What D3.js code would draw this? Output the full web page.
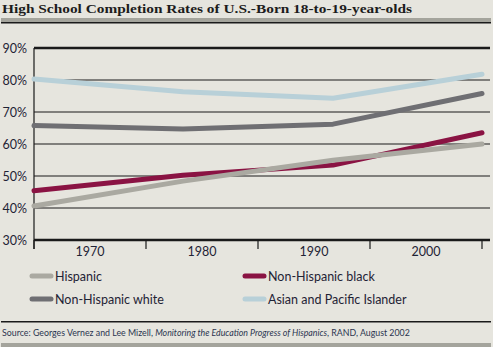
<!DOCTYPE html>
<html>
<head>
<meta charset="utf-8">
<script src="https://cdn.jsdelivr.net/npm/d3@7"></script>
<style>
  html, body { margin: 0; padding: 0; background: #e6e5de; }
  svg { display: block; }
</style>
</head>
<body>
<svg id="chart" width="493" height="347"></svg>
<script>
// data
const years = [1965, 1978.3, 1991.7, 2005];
const hispanic = [40.6, 48.4, 54.9, 60.0];
const black = [45.4, 50.2, 53.4, 63.5];
const white = [65.8, 64.7, 66.2, 75.8];
const asian = [80.3, 76.3, 74.3, 81.8];
const decadeLabels = ['1970', '1980', '1990', '2000'];
const yTicks = [30, 40, 50, 60, 70, 80, 90];

const series = [
  {name: 'Non-Hispanic white', values: white, color: '#6f6f73'},
  {name: 'Asian and Pacific Islander', values: asian, color: '#b8d0d8'},
  {name: 'Non-Hispanic black', values: black, color: '#8a1343'},
  {name: 'Hispanic', values: hispanic, color: '#aaa9a1'}
];
const legendOrder = ['Hispanic', 'Non-Hispanic black', 'Non-Hispanic white', 'Asian and Pacific Islander'];

const svg = d3.select('#chart');
const textColor = '#1f2335';
const font = 'Lato, "Open Sans", sans-serif';

// title block
svg.append('text')
  .attr('x', 2).attr('y', 13)
  .attr('font-family', '"Liberation Serif", "DejaVu Serif", serif')
  .attr('font-weight', 'bold')
  .attr('font-size', 13.5)
  .attr('fill', '#1c1c1c')
  .attr('textLength', 410)
  .attr('lengthAdjust', 'spacingAndGlyphs')
  .text('High School Completion Rates of U.S.-Born 18-to-19-year-olds');
svg.append('rect').attr('x', 1).attr('y', 18).attr('width', 490).attr('height', 4).attr('fill', '#a4a49c');
svg.append('rect').attr('x', 1).attr('y', 22).attr('width', 490).attr('height', 1.5).attr('fill', '#1a1a1a');

// scales
const x = d3.scaleLinear().domain([1965, 2005]).range([34, 482]);
const y = d3.scaleLinear().domain([30, 90]).range([240, 48]);
const right = 490;

// gridlines
svg.append('g')
  .selectAll('line')
  .data(yTicks)
  .join('line')
  .attr('x1', 34).attr('x2', right)
  .attr('y1', d => y(d)).attr('y2', d => y(d))
  .attr('stroke', '#1a1a1a')
  .attr('stroke-width', d => (d === 30 || d === 90) ? 2.5 : 1.2);

// y axis line
svg.append('line')
  .attr('x1', 34).attr('x2', 34)
  .attr('y1', y(90)).attr('y2', y(30) + 9)
  .attr('stroke', '#1a1a1a').attr('stroke-width', 1.2);

// y labels
svg.append('g')
  .selectAll('text')
  .data(yTicks)
  .join('text')
  .attr('x', 27).attr('y', d => y(d) + 4.5)
  .attr('text-anchor', 'end')
  .attr('font-family', font)
  .attr('font-size', 12.5)
  .attr('fill', textColor)
  .text(d => d + '%');

// x ticks at decade boundaries
const bounds = [1965, 1975, 1985, 1995, 2005];
svg.append('g')
  .selectAll('line')
  .data(bounds)
  .join('line')
  .attr('x1', d => x(d)).attr('x2', d => x(d))
  .attr('y1', y(30)).attr('y2', y(30) + 9)
  .attr('stroke', '#1a1a1a').attr('stroke-width', 1.2);

svg.append('g')
  .selectAll('text')
  .data(decadeLabels)
  .join('text')
  .attr('x', d => x(+d))
  .attr('y', 256)
  .attr('text-anchor', 'middle')
  .attr('font-family', font)
  .attr('font-size', 12.5)
  .attr('fill', textColor)
  .text(d => d);

// lines
const line = d3.line()
  .x((d, i) => x(years[i]))
  .y(d => y(d));

svg.append('g')
  .selectAll('path')
  .data(series)
  .join('path')
  .attr('d', d => line(d.values))
  .attr('fill', 'none')
  .attr('stroke', d => d.color)
  .attr('stroke-width', 5)
  .attr('stroke-linecap', 'round')
  .attr('stroke-linejoin', 'round');

// legend
const legend = svg.append('g')
  .selectAll('g')
  .data(legendOrder)
  .join('g')
  .attr('transform', (d, i) => `translate(${i % 2 === 0 ? 32 : 245},${i < 2 ? 276 : 299})`);

legend.append('line')
  .attr('x1', 0).attr('x2', 19)
  .attr('stroke', d => series.find(s => s.name === d).color)
  .attr('stroke-width', 5)
  .attr('stroke-linecap', 'round');

legend.append('text')
  .attr('x', 23).attr('y', 4.5)
  .attr('font-family', font)
  .attr('font-size', 12.5)
  .attr('fill', textColor)
  .text(d => d);

// footer
svg.append('rect').attr('x', 1).attr('y', 321).attr('width', 490).attr('height', 1.5).attr('fill', '#1a1a1a');

const src = svg.append('text')
  .attr('x', 2).attr('y', 336)
  .attr('font-family', font)
  .attr('font-size', 8.8)
  .attr('fill', '#2b3550');
src.append('tspan').text('Source: Georges Vernez and Lee Mizell, ');
src.append('tspan').attr('font-style', 'italic').text('Monitoring the Education Progress of Hispanics');
src.append('tspan').text(', RAND, August 2002');

svg.append('rect').attr('x', 1).attr('y', 343).attr('width', 490).attr('height', 4).attr('fill', '#a4a49c');
</script>
</body>
</html>
